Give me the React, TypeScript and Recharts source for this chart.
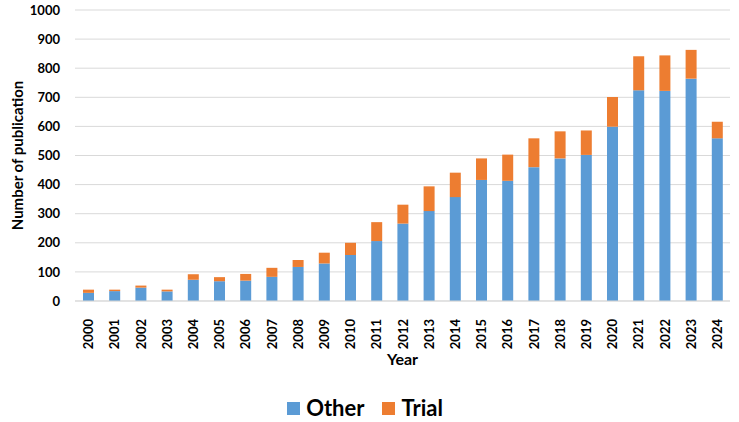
import { BarChart, Bar, XAxis, YAxis, CartesianGrid, Legend } from "recharts";

const years = [
  "2000", "2001", "2002", "2003", "2004", "2005", "2006", "2007", "2008", "2009",
  "2010", "2011", "2012", "2013", "2014", "2015", "2016", "2017", "2018", "2019",
  "2020", "2021", "2022", "2023", "2024",
];
const other = [
  28, 34, 46, 33, 73, 68, 70, 83, 117, 129, 158, 206, 266, 309, 357, 416, 413, 460,
  490, 502, 599, 724, 722, 764, 559,
];
const trial = [
  11, 5, 7, 6, 19, 14, 23, 31, 24, 37, 42, 65, 65, 85, 84, 74, 90, 99, 93, 84, 102,
  117, 122, 99, 57,
];
const yTicks = [0, 100, 200, 300, 400, 500, 600, 700, 800, 900, 1000];

const series = [
  { key: "Other", color: "#5B9BD5" },
  { key: "Trial", color: "#ED7D31" },
];

const data = years.map((year, i) => ({ year, Other: other[i], Trial: trial[i] }));

const FONT = "Lato, 'Open Sans', sans-serif";

const YearTick = ({ x, y, payload }: any) => (
  <g transform={`translate(${x},${y + 10})`}>
    <text
      x={0}
      y={0}
      dy={5}
      textAnchor="end"
      transform="rotate(-90)"
      fontFamily={FONT}
      fontWeight={700}
      fontSize={13}
      fill="#000"
    >
      {payload.value}
    </text>
  </g>
);

const YLabel = ({ viewBox }: any) => {
  const cy = viewBox.y + viewBox.height / 2;
  return (
    <text
      x={23}
      y={cy}
      transform={`rotate(-90, 23, ${cy})`}
      textAnchor="middle"
      fontFamily={FONT}
      fontWeight={700}
      fontSize={15}
      fill="#000"
    >
      Number of publication
    </text>
  );
};

const XLabel = ({ viewBox }: any) => (
  <text
    x={viewBox.x + viewBox.width / 2}
    y={viewBox.y + 64}
    textAnchor="middle"
    fontFamily={FONT}
    fontWeight={700}
    fontSize={16}
    fill="#000"
  >
    Year
  </text>
);

const LegendBox = () => (
  <div
    style={{
      display: "flex",
      justifyContent: "center",
      alignItems: "center",
      gap: 18,
      paddingTop: 13,
      fontFamily: FONT,
      fontWeight: 700,
      fontSize: 22,
      lineHeight: "26px",
      color: "#000",
    }}
  >
    {series.map((s) => (
      <div key={s.key} style={{ display: "flex", alignItems: "center", gap: 6 }}>
        <span style={{ width: 13, height: 13, background: s.color, display: "inline-block" }} />
        <span>{s.key}</span>
      </div>
    ))}
  </div>
);

export default function App() {
  return (
    <div>
      <style>{`body{margin:0}`}</style>
      <BarChart
        width={739}
        height={422}
        data={data}
        margin={{ top: 10, right: 9, left: 0, bottom: 0 }}
        barSize={11}
      >
        <CartesianGrid vertical={false} stroke="#D9D9D9" />
        <XAxis
          dataKey="year"
          interval={0}
          height={81}
          tick={<YearTick />}
          tickLine={false}
          axisLine={{ stroke: "#D9D9D9" }}
          label={<XLabel />}
        />
        <YAxis
          width={75}
          domain={[0, 1000]}
          ticks={yTicks}
          tickLine={false}
          axisLine={false}
          tickMargin={9}
          tick={{ fontFamily: FONT, fontWeight: 700, fontSize: 13, fill: "#000" }}
          label={<YLabel />}
        />
        <Legend verticalAlign="bottom" height={40} content={<LegendBox />} />
        {series.map((s) => (
          <Bar key={s.key} dataKey={s.key} stackId="a" fill={s.color} isAnimationActive={false} />
        ))}
      </BarChart>
    </div>
  );
}
